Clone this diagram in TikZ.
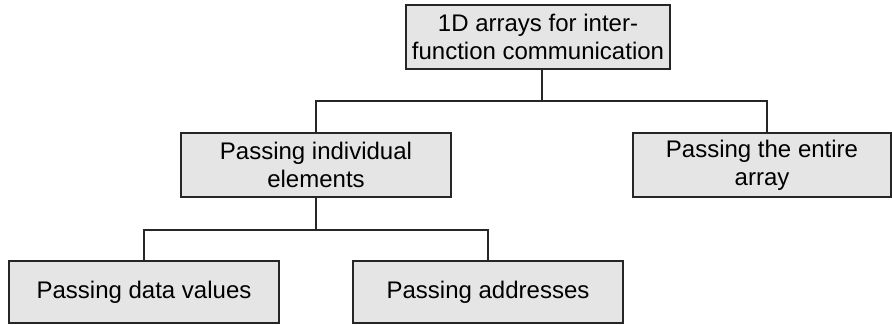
\documentclass[tikz,border=0pt]{standalone}
\usepackage{fontspec}
\setmainfont{Liberation Sans}

\begin{document}
\begin{tikzpicture}[x=0.5pt,y=0.5pt,
		box/.style={draw=black!85,line width=1pt,fill=black!10,inner sep=0pt,align=center,minimum height=32pt,font=\fontsize{12}{14}\selectfont},
		link/.style={draw=black!85,line width=0.6pt}]
			\useasboundingbox (0,0) rectangle (892,-325);
			\node[box,minimum width=132pt] (arrays) at (538,-37) {1D arrays for inter-\\function communication};
			\node[box,minimum width=135pt] (single) at (316,-165) {Passing individual\\elements};
			\node[box,minimum width=129pt] (whole) at (762,-165) {Passing the entire\\array};
			\node[box,minimum width=135pt,minimum height=31pt] (values) at (144,-292) {Passing data values};
			\node[box,minimum width=135pt,minimum height=31pt] (addrs) at (488,-292) {Passing addresses};
			\draw[link] ([xshift=2pt]arrays.south) -- ++(0,-31) coordinate (top);
			\draw[link] (single.north) |- (top) -| ([xshift=2.5pt]whole.north);
			\draw[link] (single.south) -- ++(0,-32) coordinate (low);
			\draw[link] (values.north) |- (low) -| (addrs.north);
		\end{tikzpicture}
\end{document}
